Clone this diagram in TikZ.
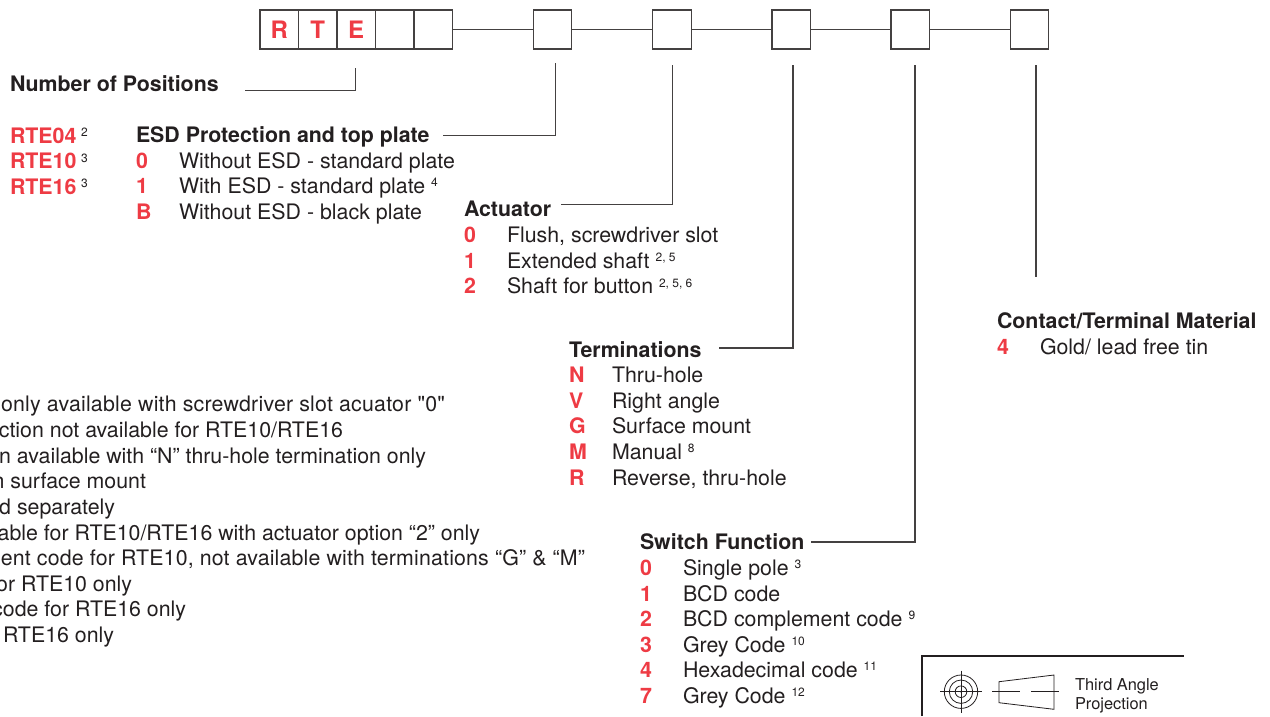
\documentclass[tikz,border=0pt]{standalone}
\usepackage{fontspec}
\setmainfont{TeX Gyre Heros}[Ligatures=TeXOff]
\definecolor{ink}{HTML}{231F20}
\definecolor{redc}{HTML}{EE3B44}
\newcommand{\sups}[1]{\raisebox{6.5pt}{\fontsize{12}{12}\selectfont #1}}
\tikzset{
  every node/.style={inner sep=0pt,outer sep=0pt,text=ink,font=\fontsize{21.35}{24}\selectfont},
  cell/.style={draw=ink!85,line width=1.1pt,minimum width=38.5pt,minimum height=39pt,anchor=center},
  wire/.style={draw=ink!85,line width=1.1pt},
  head/.style={anchor=base west,font=\fontsize{21.35}{24}\selectfont\bfseries},
  code/.style={anchor=base west,text=redc,font=\fontsize{21.35}{24}\selectfont\bfseries},
  desc/.style={anchor=base west},
  note/.style={anchor=base east},
  letter/.style={text=redc,font=\fontsize{24}{28}\selectfont\bfseries}
}
\begin{document}
\begin{tikzpicture}[x=1pt,y=-1pt]
\useasboundingbox (0,0) rectangle (1270,716);
\begin{scope}
\clip (0,0) rectangle (1270,716);
% top boxes
\node[cell,letter] (b1) at (279.2,29.5) {R};
\node[cell,letter] (b2) at (317.7,29.5) {T};
\node[cell,letter] (b3) at (356.2,29.5) {E};
\node[cell] (b4) at (394.7,29.5) {};
\node[cell] (b5) at (433.2,29.5) {};
\node[cell] (c1) at (552.5,29.5) {};
\node[cell] (c2) at (671.8,29.5) {};
\node[cell] (c3) at (791.2,29.5) {};
\node[cell] (c4) at (910.2,29.5) {};
\node[cell] (c5) at (1029.3,29.5) {};
\draw[wire] (b5.east) -- (c1.west);
\draw[wire] (c1.east) -- (c2.west);
\draw[wire] (c2.east) -- (c3.west);
\draw[wire] (c3.east) -- (c4.west);
\draw[wire] (c4.east) -- (c5.west);
% headings
\node[head] (hpos) at (10,91) {Number of Positions};
\node[head] (hesd) at (136,142.5) {ESD Protection and top plate};
\node[head] (hact) at (464,216.5) {Actuator};
\node[head] (hter) at (569,357) {Terminations};
\node[head] (hsw)  at (640,549) {Switch Function};
\node[head] (hcon) at (997,328) {Contact/Terminal Material};
% leaders
\coordinate (lp0) at (245,90.5); \coordinate (lp1) at (355.5,90.5); \coordinate (lp2) at (355.5,68);
\coordinate (le0) at (443,135.5); \coordinate (le1) at (555.5,135.5); \coordinate (le2) at (555.5,63);
\coordinate (la0) at (561,204.5); \coordinate (la1) at (672.5,204.5); \coordinate (la2) at (672.5,65);
\coordinate (lt0) at (719,348); \coordinate (lt1) at (793,348); \coordinate (lt2) at (793,65);
\coordinate (ls0) at (811,542); \coordinate (ls1) at (915,542); \coordinate (ls2) at (915,65);
\coordinate (lc0) at (1036,65); \coordinate (lc1) at (1036,277);
\draw[wire] (lp0) -- (lp1) -- (lp2);
\draw[wire] (le0) -- (le1) -- (le2);
\draw[wire] (la0) -- (la1) -- (la2);
\draw[wire] (lt0) -- (lt1) -- (lt2);
\draw[wire] (ls0) -- (ls1) -- (ls2);
\draw[wire] (lc0) -- (lc1);
% positions
\node[code] (p1) at (10,143) {RTE04}; \node[desc] (p1s) at (81,143) {\sups{2}};
\node[code] (p2) at (10,168.5) {RTE10}; \node[desc] (p2s) at (81,168.5) {\sups{3}};
\node[code] (p3) at (10,194) {RTE16}; \node[desc] (p3s) at (81,194) {\sups{3}};
% ESD
\node[code] (e1) at (136,168) {0}; \node[desc] (e1d) at (179,168) {Without ESD - standard plate};
\node[code] (e2) at (136,193) {1}; \node[desc] (e2d) at (179,193) {With ESD - standard plate \sups{4}};
\node[code] (e3) at (136,219) {B}; \node[desc] (e3d) at (179,219) {Without ESD - black plate};
% Actuator
\node[code] (a1) at (464,242.5) {0}; \node[desc] (a1d) at (507,242.5) {Flush, screwdriver slot};
\node[code] (a2) at (464,268) {1}; \node[desc] (a2d) at (507,268) {Extended shaft \sups{2, 5}};
\node[code] (a3) at (464,293.5) {2}; \node[desc] (a3d) at (507,293.5) {Shaft for button \sups{2, 5, 6}};
% Terminations
\node[code] (t1) at (569,382) {N}; \node[desc] (t1d) at (612,382) {Thru-hole};
\node[code] (t2) at (569,408) {V}; \node[desc] (t2d) at (612,408) {Right angle};
\node[code] (t3) at (569,433) {G}; \node[desc] (t3d) at (612,433) {Surface mount};
\node[code] (t4) at (569,459) {M}; \node[desc] (t4d) at (612,459) {Manual \sups{8}};
\node[code] (t5) at (569,485) {R}; \node[desc] (t5d) at (612,485) {Reverse, thru-hole};
% Switch
\node[code] (s1) at (640,575) {0}; \node[desc] (s1d) at (683,575) {Single pole \sups{3}};
\node[code] (s2) at (640,601) {1}; \node[desc] (s2d) at (683,601) {BCD code};
\node[code] (s3) at (640,626) {2}; \node[desc] (s3d) at (683,626) {BCD complement code \sups{9}};
\node[code] (s4) at (640,652) {3}; \node[desc] (s4d) at (683,652) {Grey Code \sups{10}};
\node[code] (s5) at (640,677) {4}; \node[desc] (s5d) at (683,677) {Hexadecimal code \sups{11}};
\node[code] (s6) at (640,703) {7}; \node[desc] (s6d) at (683,703) {Grey Code \sups{12}};
% Contact
\node[code] (k1) at (997,354) {4}; \node[desc] (k1d) at (1040,354) {Gold/ lead free tin};
% notes (cut by the left edge)
\node[note] (n1) at (445,411) {\addfontfeatures{LetterSpace=1}only available with screwdriver slot acuator "0"};
\node[note] (n2) at (343,437.2) {ction not available for RTE10/RTE16};
\node[note] (n3) at (426,463) {n available with “N” thru-hole termination only};
\node[note] (n4) at (146,488.2) {n surface mount};
\node[note] (n5) at (115,514) {d separately};
\node[note] (n6) at (480,540) {able for RTE10/RTE16 with actuator option “2” only};
\node[note] (n7) at (585,565.3) {\addfontfeatures{LetterSpace=.8}ent code for RTE10, not available with terminations “G” \& “M”};
\node[note] (n8) at (132,591) {or RTE10 only};
\node[note] (n9) at (186,616.3) {code for RTE16 only};
\node[note] (n10) at (114,642) {RTE16 only};
% third angle block
\draw[ink,line width=2pt] (922,716) -- (922,656) -- (1184,656);
\begin{scope}[ink,line width=.8pt]
\draw (961,691.7) circle (16.7);
\draw (961,691.7) circle (11.7);
\draw (961,691.7) circle (5.8);
\fill (961,691.7) circle (1);
\draw (940,691.7) -- (982,691.7);
\draw (961,670.7) -- (961,712.7);
\draw (999,681.7) -- (1054,675) -- (1054,709.3) -- (999,702.7) -- cycle;
\draw (992,691.7) -- (1020,691.7);
\draw (1031,691.7) -- (1059,691.7);
\end{scope}
\node[anchor=base west,font=\fontsize{16.4}{18}\selectfont] (ta1) at (1075,690) {Third Angle};
\node[anchor=base west,font=\fontsize{16.4}{18}\selectfont] (ta2) at (1075,709) {Projection};
\end{scope}
\end{tikzpicture}
\end{document}
